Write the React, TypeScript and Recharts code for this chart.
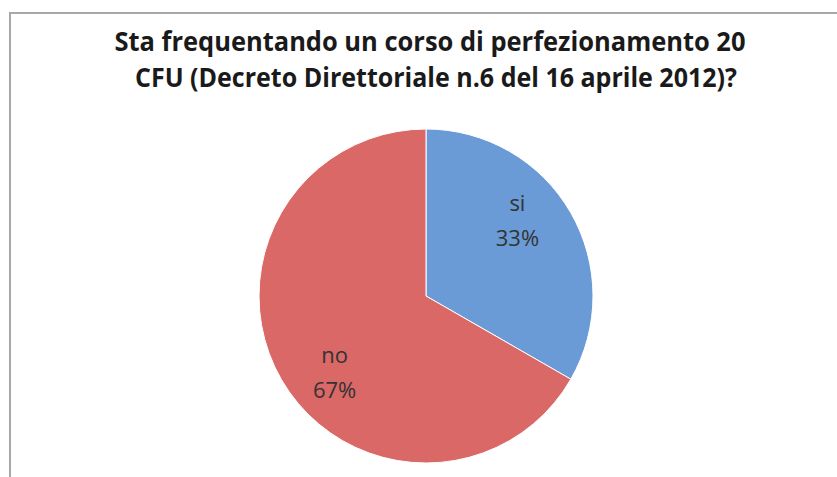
import React from "react";
import { PieChart, Pie, Cell } from "recharts";

const titleLines = [
  "Sta frequentando un corso di perfezionamento 20",
  "CFU (Decreto Direttoriale n.6 del 16 aprile 2012)?",
];
const categories = ["si", "no"];
const values = [33.3, 66.7];
const colors = ["#6A9BD6", "#D96866"];

const data = categories.map((name, i) => ({ name, value: values[i] }));

const RAD = Math.PI / 180;

const renderLabel = (props: any) => {
  const { cx, cy, midAngle, outerRadius, name, percent } = props;
  const a = (midAngle + 9.5) * RAD;
  const r = outerRadius * 0.71;
  const x = cx + r * Math.cos(a);
  const y = cy - r * Math.sin(a);
  return (
    <text
      x={x}
      y={y}
      textAnchor="middle"
      fill="#333333"
      fontFamily="'Open Sans', sans-serif"
      fontSize={22}
    >
      <tspan x={x} dy={-9}>{name}</tspan>
      <tspan x={x} dy={35}>{`${Math.round(percent * 100)}%`}</tspan>
    </text>
  );
};

export default function App() {
  return (
    <div
      style={{
        position: "absolute",
        left: 0,
        top: 0,
        width: 837,
        height: 477,
        overflow: "hidden",
        background: "#ffffff",
      }}
    >
      <div
        style={{
          position: "absolute",
          left: 9,
          top: 12,
          width: 900,
          height: 600,
          border: "2px solid #a8a8a8",
          boxSizing: "border-box",
        }}
      />
      <svg
        width={837}
        height={477}
        style={{ position: "absolute", left: 0, top: 0 }}
      >
        <text
          x={430}
          y={51}
          textAnchor="middle"
          fontFamily="'Open Sans', sans-serif"
          fontWeight="bold"
          fontSize={26}
          fill="#1a1a1a"
          textLength={631}
          lengthAdjust="spacingAndGlyphs"
        >
          {titleLines[0]}
        </text>
        <text
          x={436}
          y={87}
          textAnchor="middle"
          fontFamily="'Open Sans', sans-serif"
          fontWeight="bold"
          fontSize={26}
          fill="#1a1a1a"
          textLength={602}
          lengthAdjust="spacingAndGlyphs"
        >
          {titleLines[1]}
        </text>
      </svg>
      <div style={{ position: "absolute", left: 0, top: 0 }}>
        <PieChart width={837} height={477} margin={{ top: 0, right: 0, bottom: 0, left: 0 }}>
          <Pie
            data={data}
            dataKey="value"
            nameKey="name"
            cx={426}
            cy={296}
            outerRadius={167}
            startAngle={90}
            endAngle={-270}
            stroke="#ffffff"
            strokeWidth={1}
            label={renderLabel}
            labelLine={false}
            isAnimationActive={false}
          >
            {data.map((d, i) => (
              <Cell key={d.name} fill={colors[i]} />
            ))}
          </Pie>
        </PieChart>
      </div>
    </div>
  );
}
